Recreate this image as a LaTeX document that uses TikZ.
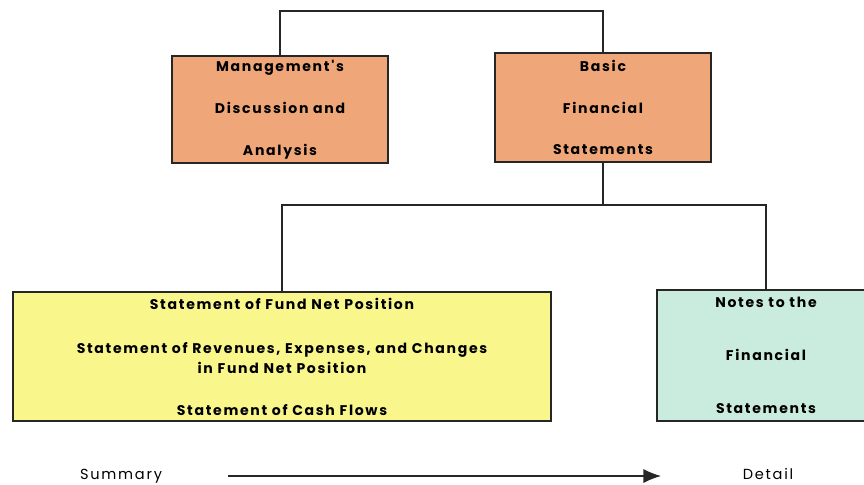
\documentclass[tikz,border=0pt]{standalone}
\usepackage{fontspec}
\setmainfont{Poppins}
\newfontfamily\boxfont{Poppins}[LetterSpace=12]
\usepackage{tikz}
\usetikzlibrary{arrows.meta}
\definecolor{mdaorange}{RGB}{239,166,120}
\definecolor{stmtyellow}{RGB}{249,246,140}
\definecolor{notesgreen}{RGB}{201,236,222}

\begin{document}
\begin{tikzpicture}[x=0.02cm, y=-0.02cm, >={Latex[length=10pt,width=8pt]},
                    box/.style={draw=black!85, line width=1.2pt, align=center, inner sep=0pt,
                                font=\boxfont\bfseries\fontsize{8}{11}\selectfont},
                    link/.style={draw=black!85, line width=1.2pt},
                    endlabel/.style={font=\boxfont\fontsize{8.3}{10}\selectfont}]
  \useasboundingbox (0,0) rectangle (864,484);
  \node[box, fill=mdaorange, minimum width=4.32cm, minimum height=2.14cm] (mda) at (280,109.5)
    {Management's\\[12.8pt]Discussion and\\[12.8pt]Analysis};
  \node[box, fill=mdaorange, minimum width=4.32cm, minimum height=2.18cm] (bfs) at (603,107.5)
    {Basic\\[12.8pt]Financial\\[12.8pt]Statements};
  \node[box, fill=stmtyellow, minimum width=10.76cm, minimum height=2.58cm] (stmts) at (282,356.5)
    {Statement of Fund Net Position\\[14.5pt]Statement of Revenues, Expenses, and Changes\\in Fund Net Position\\[12.8pt]Statement of Cash Flows};
  \node[box, fill=notesgreen, minimum width=4.36cm, minimum height=2.62cm] (notes) at (766,355.5)
    {Notes to the\\[19pt]Financial\\[19pt]Statements};
  \draw[link] (mda.north) -- ++(0,-44) -| (bfs.north);
  \coordinate (split) at (603,205);
  \draw[link] (bfs.south) -- (split);
  \draw[link] (split) -| (stmts.north);
  \draw[link] (split) -| (notes.north);
  \node[endlabel] (summary) at (121,476) {Summary};
  \node[endlabel] (detail) at (768,474) {Detail};
  \coordinate (from) at (228,476);
  \coordinate (to) at (661,476);
  \draw[->, line width=0.7pt, black!85] (from) -- (to);
\end{tikzpicture}
\end{document}
